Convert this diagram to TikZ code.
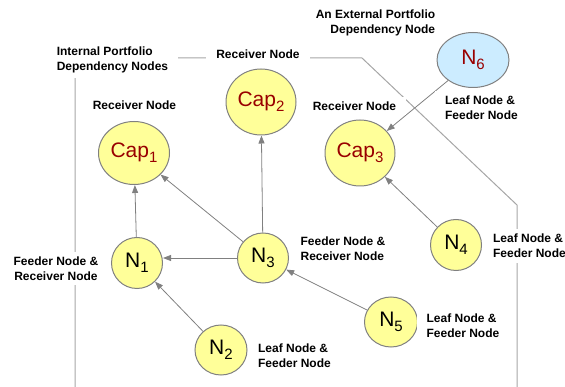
\documentclass[tikz,border=0pt]{standalone}
\usepackage{fontspec}
\setmainfont{Liberation Sans}
\usetikzlibrary{shapes.geometric,arrows.meta}
\newlength{\du}
\setlength{\du}{1\unitlength}
\newcommand{\subidx}[1]{\raisebox{-5\du}{\fontsize{15}{15}\selectfont #1}}

\begin{document}
\begin{tikzpicture}
\pgftransformxscale{1.000000}
\pgftransformyscale{-1.000000}
\definecolor{circlecolor}{rgb}{1.000000, 1.000000, 0.600000}
\definecolor{extcolor}{rgb}{0.800000, 0.925000, 1.000000}
\definecolor{edgecolor}{rgb}{0.500000, 0.500000, 0.500000}
\definecolor{bordercolor}{rgb}{0.650000, 0.650000, 0.650000}
\definecolor{capcolor}{rgb}{0.600000, 0.000000, 0.000000}
\tikzset{
  portnode/.style={ellipse, draw=edgecolor, line width=1\du, fill=circlecolor, inner sep=0pt, font=\fontsize{21}{21}\selectfont},
  feed/.style={draw=edgecolor, line width=0.8\du, -{Triangle[length=8pt,width=6pt]}},
  nodelabel/.style={fill=white, inner xsep=10\du, inner ysep=5\du, font=\bfseries\fontsize{12}{15}\selectfont}
}
\useasboundingbox (0\du,0\du) rectangle (565\du,387\du);
% portfolio boundary
\coordinate (bndA) at (75\du,387\du);
\coordinate (bndB) at (75\du,58\du);
\coordinate (bndC) at (362\du,58\du);
\coordinate (bndD) at (517\du,205\du);
\coordinate (bndE) at (517\du,387\du);
\draw[draw=bordercolor, line width=1\du] (bndA)--(bndB)--(bndC)--(bndD)--(bndE);
% nodes
\node[portnode, minimum width=71\du, minimum height=63\du] (cap1) at (134\du,153\du) {\textcolor{capcolor}{Cap\subidx{1}}};
\node[portnode, minimum width=70\du, minimum height=66\du] (cap2) at (261\du,102\du) {\textcolor{capcolor}{Cap\subidx{2}}};
\node[portnode, minimum width=70\du, minimum height=66\du] (cap3) at (360\du,153\du) {\textcolor{capcolor}{Cap\subidx{3}}};
\node[portnode, fill=extcolor, minimum width=72\du, minimum height=55\du] (n6) at (473\du,60\du) {\textcolor{capcolor}{N\subidx{6}}};
\node[portnode, minimum width=51\du, minimum height=51\du] (n1) at (137\du,263\du) {N\subidx{1}};
\node[portnode, minimum width=51\du, minimum height=50\du] (n3) at (263\du,258\du) {N\subidx{3}};
\node[portnode, minimum width=52\du, minimum height=50\du] (n2) at (221\du,350\du) {N\subidx{2}};
\node[portnode, minimum width=51\du, minimum height=51\du] (n4) at (456\du,245\du) {N\subidx{4}};
\node[portnode, minimum width=53\du, minimum height=50\du] (n5) at (391\du,322\du) {N\subidx{5}};
% feeds
\draw[feed] (n1) -- (cap1);
\draw[feed] (n3) -- (cap1);
\draw[feed] (n3) -- (cap2);
\draw[feed] (n3.west) -- (n3.west -| n1.east);
\draw[feed] (n2) -- (n1);
\draw[feed] (n5) -- (n3);
\draw[feed] (n4) -- (cap3);
\draw[feed] (n6) -- (cap3);
% labels
\node[nodelabel, align=left] (intlbl) at (112.5\du,59.5\du) {Internal Portfolio\\Dependency Nodes};
\node[nodelabel] (rcvlbl2) at (258\du,54.5\du) {Receiver Node};
\node[nodelabel] (rcvlbl1) at (134.5\du,105\du) {Receiver Node};
\node[nodelabel, align=right] (extlbl) at (375.5\du,22.5\du) {An External Portfolio\\Dependency Node};
\node[nodelabel] (rcvlbl3) at (354.5\du,106\du) {Receiver Node};
\node[nodelabel, align=left] (leaflbl6) at (481.5\du,107.5\du) {Leaf Node \&\\Feeder Node};
\node[nodelabel, align=center] (frlbl1) at (56\du,268.5\du) {Feeder Node \&\\Receiver Node};
\node[nodelabel, align=left] (leaflbl2) at (294.5\du,355.5\du) {Leaf Node \&\\Feeder Node};
\node[nodelabel, align=left] (frlbl3) at (343\du,248.5\du) {Feeder Node \&\\Receiver Node};
\node[nodelabel, align=left] (leaflbl4) at (529.5\du,246\du) {Leaf Node \&\\Feeder Node};
\node[nodelabel, align=left] (leaflbl5) at (463\du,325.5\du) {Leaf Node \&\\Feeder Node};
\end{tikzpicture}
\end{document}
